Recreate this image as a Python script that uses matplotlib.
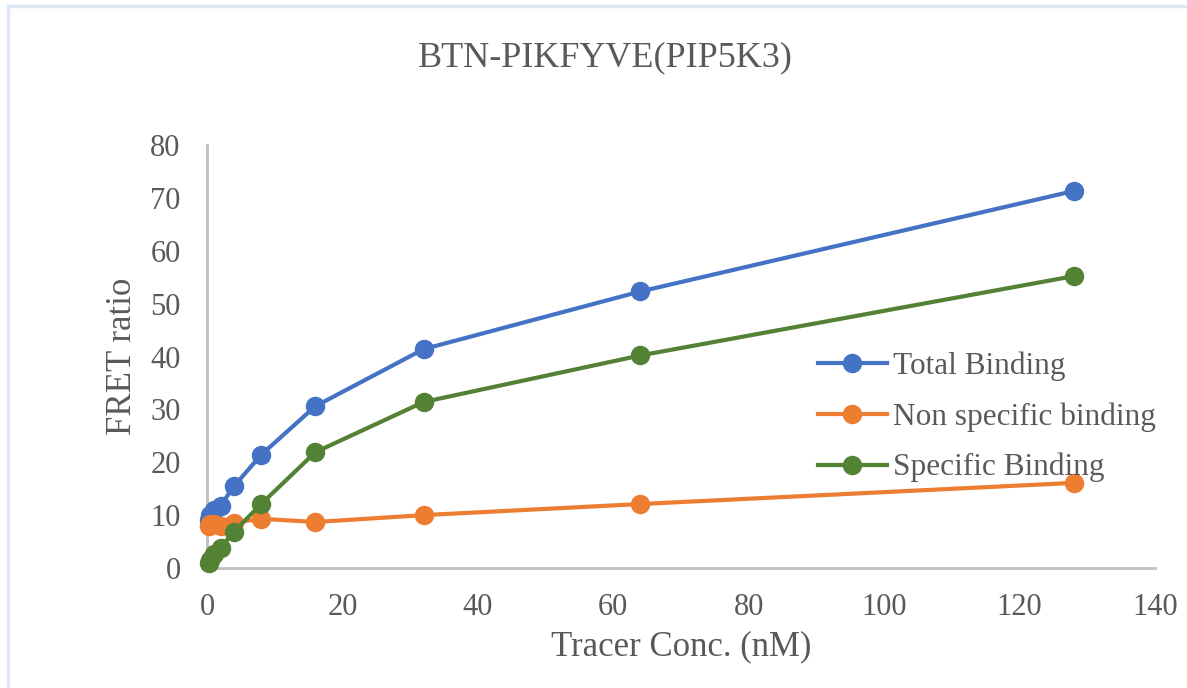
import matplotlib.pyplot as plt
from matplotlib.lines import Line2D

# tracer concentrations (nM) and FRET ratios
conc = [0.25, 0.5, 1, 2, 4, 8, 16, 32, 64, 128]
total_binding = [9.0, 10.0, 11.0, 11.8, 15.5, 21.4, 30.6, 41.4, 52.3, 71.3]
nonspecific_binding = [8.0, 8.4, 8.3, 8.0, 8.6, 9.3, 8.7, 10.0, 12.1, 16.1]
specific_binding = [1.0, 1.6, 2.7, 3.8, 6.9, 12.1, 21.9, 31.4, 40.2, 55.2]

series_names = ['Total Binding', 'Non specific binding', 'Specific Binding']
colors = ['#4472C4', '#ED7D31', '#548235']
text_color = '#595959'

plt.rcParams['font.family'] = ['Liberation Serif', 'DejaVu Serif']

W, H = 1187, 688
fig = plt.figure(figsize=(W / 100, H / 100), dpi=100)
ax = fig.add_axes([207 / W, 1 - 568 / H, (1155 - 207) / W, (568 - 145) / H])

for ys, name, c in zip([total_binding, nonspecific_binding, specific_binding], series_names, colors):
    ax.plot(conc, ys, color=c, lw=3, marker='o', markersize=13, label=name, clip_on=False, zorder=3)

ax.set_xlim(0, 140)
ax.set_ylim(0, 80)
ax.set_xticks(range(0, 141, 20))
ax.set_yticks(range(0, 81, 10))

for s in ['top', 'right']:
    ax.spines[s].set_visible(False)
for s in ['left', 'bottom']:
    ax.spines[s].set_color('#BFBFBF')
    ax.spines[s].set_linewidth(2)

ax.tick_params(axis='x', length=0, pad=18, labelsize=22, labelcolor=text_color)
ax.tick_params(axis='y', length=0, pad=19, labelsize=22, labelcolor=text_color)

ax.set_xlabel('Tracer Conc. (nM)', fontsize=25, color=text_color, labelpad=6)
ax.set_ylabel('FRET ratio', fontsize=25, color=text_color, labelpad=8)

fig.text(605 / W, 1 - 58 / H, 'BTN-PIKFYVE(PIP5K3)', fontsize=26, color=text_color,
         ha='center', va='center')

leg = ax.legend(loc='center left', bbox_to_anchor=(818 / W, 1 - 417 / H),
                bbox_transform=fig.transFigure, frameon=False, fontsize=22.5,
                handlelength=2.2, handletextpad=0.2, labelspacing=0.68,
                borderpad=0, borderaxespad=0)
for t in leg.get_texts():
    t.set_color(text_color)

# light border of the chart area
fig.add_artist(Line2D([8 / W, 8 / W], [0, 1 - 6 / H], transform=fig.transFigure,
                      color='#DEE8F5', lw=2.5))
fig.add_artist(Line2D([8 / W, 1], [1 - 6 / H, 1 - 6 / H], transform=fig.transFigure,
                      color='#DEE8F5', lw=2.5))

fig.savefig('out.png', dpi=100)
